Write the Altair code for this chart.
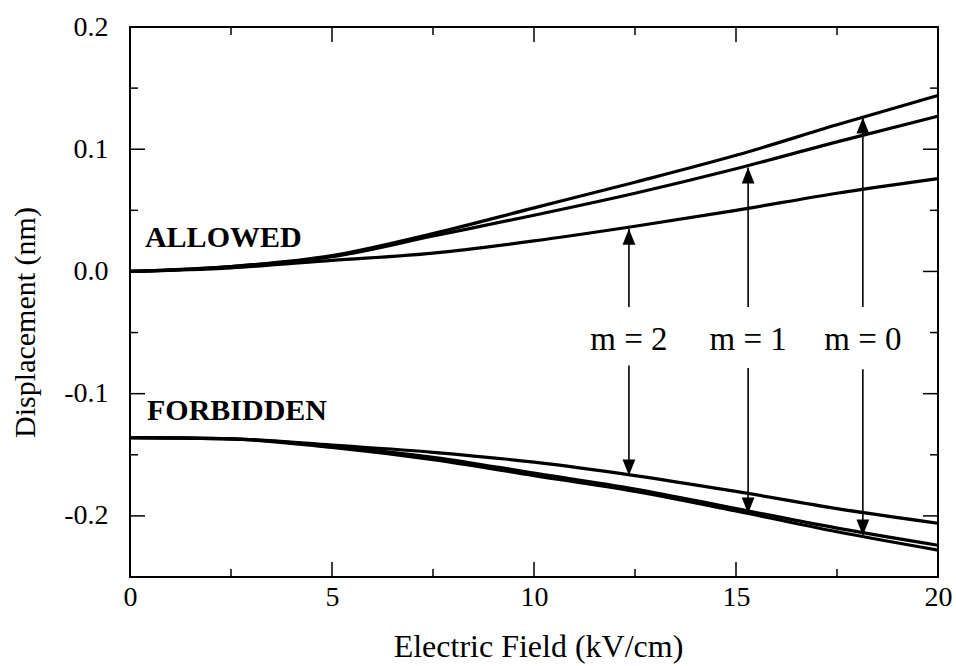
import altair as alt
import pandas as pd

# ---------------- data ----------------
field = [0, 2.5, 5, 7.5, 10, 12.5, 15, 17.5, 20]

allowed_m0 = [0.0, 0.004, 0.013, 0.031, 0.052, 0.073, 0.095, 0.120, 0.144]
allowed_m1 = [0.0, 0.004, 0.012, 0.029, 0.046, 0.064, 0.084, 0.106, 0.127]
allowed_m2 = [0.0, 0.003, 0.009, 0.015, 0.025, 0.037, 0.050, 0.064, 0.076]

forbidden_m0 = [-0.136, -0.137, -0.144, -0.154, -0.167, -0.180, -0.196, -0.213, -0.228]
forbidden_m1 = [-0.136, -0.137, -0.143, -0.152, -0.165, -0.178, -0.194, -0.210, -0.224]
forbidden_m2 = [-0.136, -0.137, -0.142, -0.148, -0.156, -0.167, -0.180, -0.194, -0.206]

arrow_x = [12.35, 15.3, 18.14]
arrow_labels = ["m = 2", "m = 1", "m = 0"]
up_from = [-0.029, -0.029, -0.029]
up_to = [0.035, 0.085, 0.126]
down_from = [-0.077, -0.079, -0.080]
down_to = [-0.167, -0.198, -0.216]
label_y = [-0.0645, -0.0645, -0.0645]

region_text = ["ALLOWED", "FORBIDDEN"]
region_x = [0.37, 0.42]
region_y = [0.0196, -0.1216]

x_major = [0, 5, 10, 15, 20]
x_minor = [2.5, 7.5, 12.5, 17.5]
y_major = [-0.2, -0.1, 0.0, 0.1, 0.2]
y_minor = [-0.15, -0.05, 0.05, 0.15]

# ---------------- layout ----------------
W, H = 808, 550
FONT = "Liberation Serif"
MAJ, MIN = 15, 8

curves = []
for name, vals in [("allowed m=0", allowed_m0), ("allowed m=1", allowed_m1),
                   ("allowed m=2", allowed_m2), ("forbidden m=0", forbidden_m0),
                   ("forbidden m=1", forbidden_m1), ("forbidden m=2", forbidden_m2)]:
    for f, v in zip(field, vals):
        curves.append({"field": f, "disp": v, "curve": name})
curves_df = pd.DataFrame(curves)

arrows_df = pd.DataFrame({
    "ax": arrow_x * 2,
    "y1": up_from + down_from,
    "y2": up_to + down_to,
    "dir": ["up"] * 3 + ["down"] * 3,
})
labels_df = pd.DataFrame({"ax": arrow_x, "ly": label_y, "txt": arrow_labels})
region_df = pd.DataFrame({"rx": region_x, "ry": region_y, "txt": region_text})

xs = alt.Scale(domain=[0, 20], nice=False, zero=False)
ys = alt.Scale(domain=[-0.25, 0.2], nice=False, zero=False)

x_axis = alt.Axis(values=x_major, ticks=False, domain=False, grid=False,
                  labelFont=FONT, labelFontSize=28, labelColor="black",
                  labelPadding=6, labelFlush=False,
                  title="Electric Field (kV/cm)", titleFont=FONT, titleFontSize=32,
                  titleFontWeight="normal", titleColor="black",
                  titleX=408, titleY=79, titleAlign="center", titleBaseline="alphabetic")
y_axis = alt.Axis(values=y_major, ticks=False, domain=False, grid=False,
                  labelFont=FONT, labelFontSize=28, labelColor="black",
                  labelPadding=22, labelFlush=False,
                  labelExpr="datum.value < 0 ? '-' + format(-datum.value, '.1f') : format(datum.value, '.1f')",
                  title="Displacement (nm)", titleFont=FONT, titleFontSize=30,
                  titleFontWeight="normal", titleColor="black",
                  titleX=-105, titleY=295, titleAlign="center", titleBaseline="middle")


def X(f):
    return alt.X(f, type="quantitative", scale=xs, axis=x_axis)


def Y(f):
    return alt.Y(f, type="quantitative", scale=ys, axis=y_axis)


lines = alt.Chart(curves_df).mark_line(color="black", strokeWidth=3.2, interpolate="monotone").encode(
    x=X("field"), y=Y("disp"), detail="curve:N")

arrow_lines = alt.Chart(arrows_df).mark_rule(color="black", strokeWidth=1.6).encode(
    x=X("ax"), y=Y("y1"), y2="y2")

up_head = alt.Chart(arrows_df).transform_filter("datum.dir == 'up'").mark_point(
    shape="M0,0L-0.4,1L0.4,1Z", size=1024, filled=True, color="black", opacity=1, strokeWidth=0
).encode(x=X("ax"), y=Y("y2"))

down_head = alt.Chart(arrows_df).transform_filter("datum.dir == 'down'").mark_point(
    shape="M0,0L-0.4,-1L0.4,-1Z", size=1024, filled=True, color="black", opacity=1, strokeWidth=0
).encode(x=X("ax"), y=Y("y2"))

m_text = alt.Chart(labels_df).mark_text(
    font=FONT, fontSize=33, color="black", align="center", baseline="alphabetic"
).encode(x=X("ax"), y=Y("ly"), text="txt:N")

reg_text = alt.Chart(region_df).mark_text(
    font=FONT, fontSize=30, fontWeight="bold", color="black", align="left", baseline="alphabetic"
).encode(x=X("rx"), y=Y("ry"), text="txt:N")


def xticks(vals, length):
    d = pd.DataFrame({"t": vals})
    bottom = alt.Chart(d).mark_rule(color="black", strokeWidth=1.5).encode(
        x=X("t"), y=alt.value(H), y2=alt.value(H - length))
    top = alt.Chart(d).mark_rule(color="black", strokeWidth=1.5).encode(
        x=X("t"), y=alt.value(0), y2=alt.value(length))
    return [bottom, top]


def yticks(vals, length):
    d = pd.DataFrame({"t": vals})
    left = alt.Chart(d).mark_rule(color="black", strokeWidth=1.5).encode(
        y=Y("t"), x=alt.value(0), x2=alt.value(length))
    right = alt.Chart(d).mark_rule(color="black", strokeWidth=1.5).encode(
        y=Y("t"), x=alt.value(W), x2=alt.value(W - length))
    return [left, right]


layers = [lines, arrow_lines, up_head, down_head, m_text, reg_text]
layers += xticks(x_major, MAJ) + xticks(x_minor, MIN) + yticks(y_major, MAJ) + yticks(y_minor, MIN)

chart = alt.layer(*layers).properties(
    width=W, height=H,
    autosize=alt.AutoSizeParams(type="none"),
    padding={"left": 130, "top": 27, "right": 18, "bottom": 89},
    background="white",
).configure_view(stroke="black", strokeWidth=2)

chart.save("out.html", embed_options={"renderer": "svg", "actions": False})
